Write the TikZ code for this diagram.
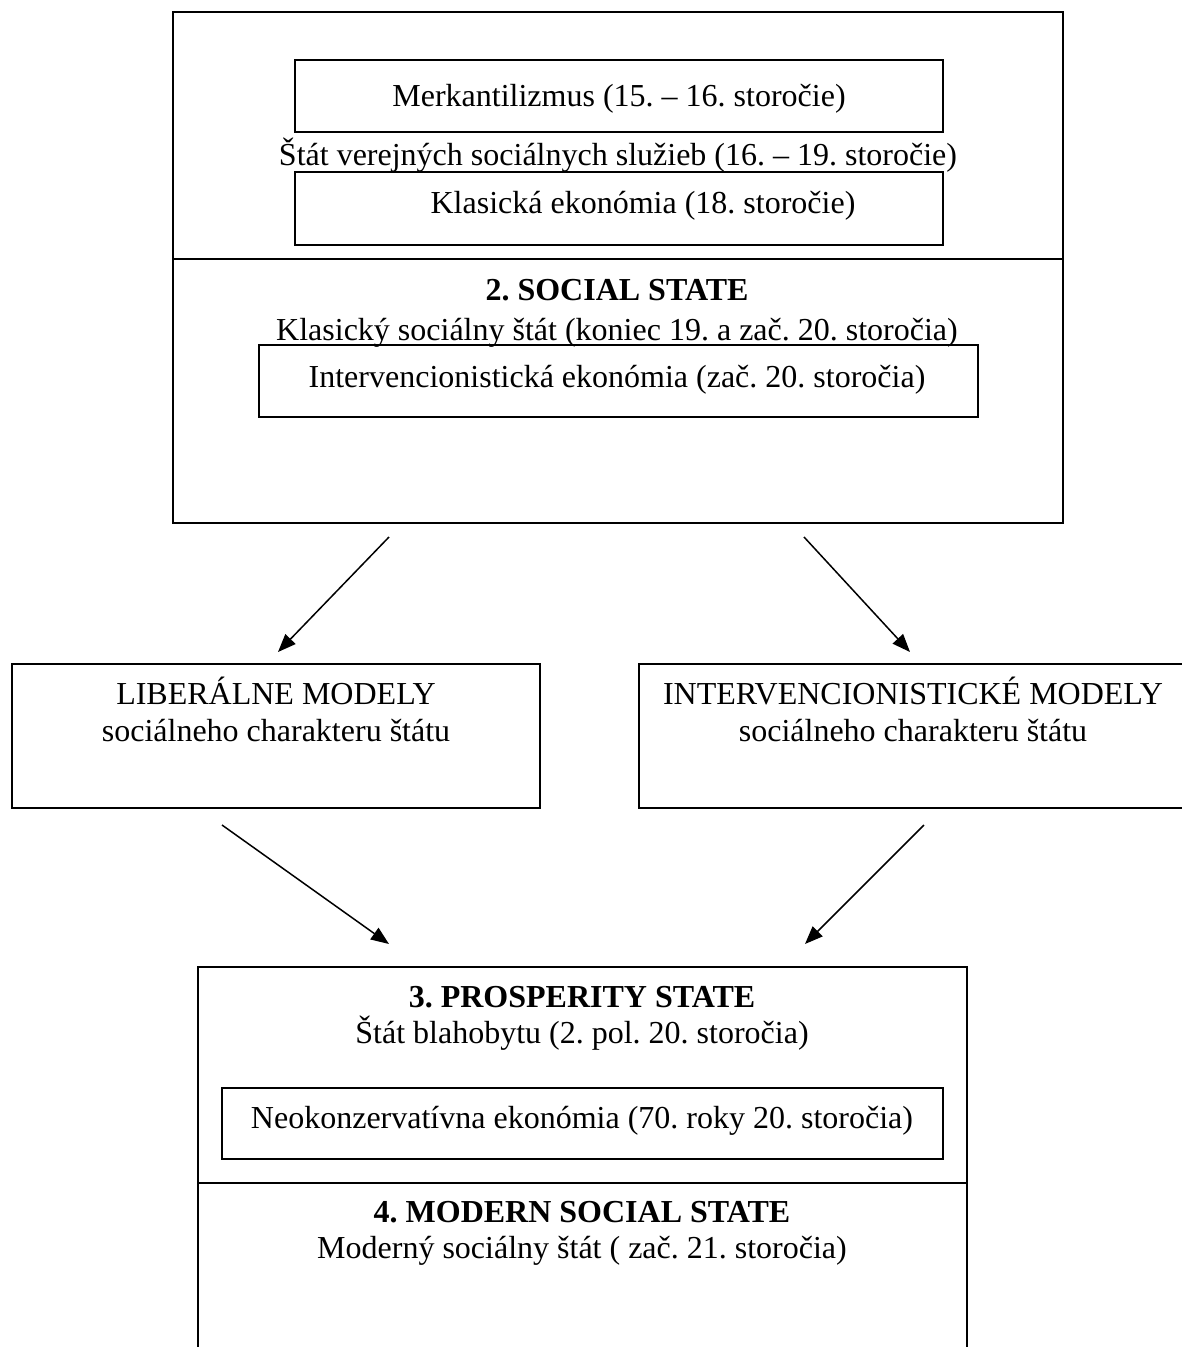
\documentclass[tikz,border=0pt]{standalone}
\usepackage{fontspec}
\setmainfont{Liberation Serif}
\usetikzlibrary{arrows.meta}
\frenchspacing
\tikzset{
  box/.style={draw, line width=1.6pt, inner sep=0pt, outer sep=0pt},
  txt/.style={anchor=base, inner sep=0pt, font=\fontsize{32}{37}\selectfont},
  htxt/.style={txt, font=\fontsize{32}{37}\selectfont\bfseries},
  arr/.style={line width=1.5pt, -{Triangle[length=18pt,width=14pt]}},
  divider/.style={line width=1.6pt}
}
\begin{document}
\begin{tikzpicture}[x=1pt,y=-1pt]
\useasboundingbox[fill=white] (0,0) rectangle (1182,1347);
% top outer box
\node[box, minimum width=890pt, minimum height=511pt] (top) at (618,267.5) {};
\coordinate (div1) at (618,259);
\draw[divider] (top.west |- div1) -- (top.east |- div1);
\node[box, minimum width=648pt, minimum height=72pt] (merk) at (619,96) {};
\node[box, minimum width=648pt, minimum height=73pt] (klas) at (619,208.5) {};
\node[box, minimum width=719pt, minimum height=72pt] (interv) at (618.5,381) {};
\node[txt] (tmerk) at (619,106) {Merkantilizmus (15. – 16. storočie)};
\node[txt] (tstat) at (618,165) {Štát verejných sociálnych služieb (16. – 19. storočie)};
\node[txt] (tklas) at (643,213) {Klasická ekonómia (18. storočie)};
\node[htxt] (tsoc) at (617,300) {2. SOCIAL STATE};
\node[txt] (tklsoc) at (617,340) {Klasický sociálny štát (koniec 19. a zač. 20. storočia)};
\node[txt] (tinterv) at (617,387) {Intervencionistická ekonómia (zač. 20. storočia)};
% middle boxes
\node[box, minimum width=528pt, minimum height=144pt] (lib) at (276,736) {};
\node[box, minimum width=548pt, minimum height=144pt] (intm) at (913,736) {};
\node[txt] (tlib1) at (276,704) {LIBERÁLNE MODELY};
\node[txt] (tlib2) at (276,741) {sociálneho charakteru štátu};
\node[txt] (tint1) at (913,704) {INTERVENCIONISTICKÉ MODELY};
\node[txt] (tint2) at (913,741) {sociálneho charakteru štátu};
% bottom box (open at the bottom, runs off the page)
\node[box, minimum width=769pt, minimum height=420pt] (bot) at (582.5,1177) {};
\coordinate (div2) at (582.5,1183);
\draw[divider] (bot.west |- div2) -- (bot.east |- div2);
\node[box, minimum width=721pt, minimum height=71pt] (neo) at (582.5,1123.5) {};
\node[htxt] (tpros) at (582,1007) {3. PROSPERITY STATE};
\node[txt] (tblah) at (582,1043) {Štát blahobytu (2. pol. 20. storočia)};
\node[txt] (tneo) at (582,1128) {Neokonzervatívna ekonómia (70. roky 20. storočia)};
\node[htxt] (tmod) at (582,1222) {4. MODERN SOCIAL STATE};
\node[txt] (tmods) at (582,1258) {Moderný sociálny štát ( zač. 21. storočia)};
% arrows
\coordinate (a1s) at (389,537);
\coordinate (a1e) at (278,652);
\coordinate (a2s) at (804,537);
\coordinate (a2e) at (910,652);
\coordinate (a3s) at (222,825);
\coordinate (a3e) at (389,944);
\coordinate (a4s) at (924,825);
\coordinate (a4e) at (805,944);
\draw[arr] (a1s) -- (a1e);
\draw[arr] (a2s) -- (a2e);
\draw[arr] (a3s) -- (a3e);
\draw[arr] (a4s) -- (a4e);
\end{tikzpicture}
\end{document}
